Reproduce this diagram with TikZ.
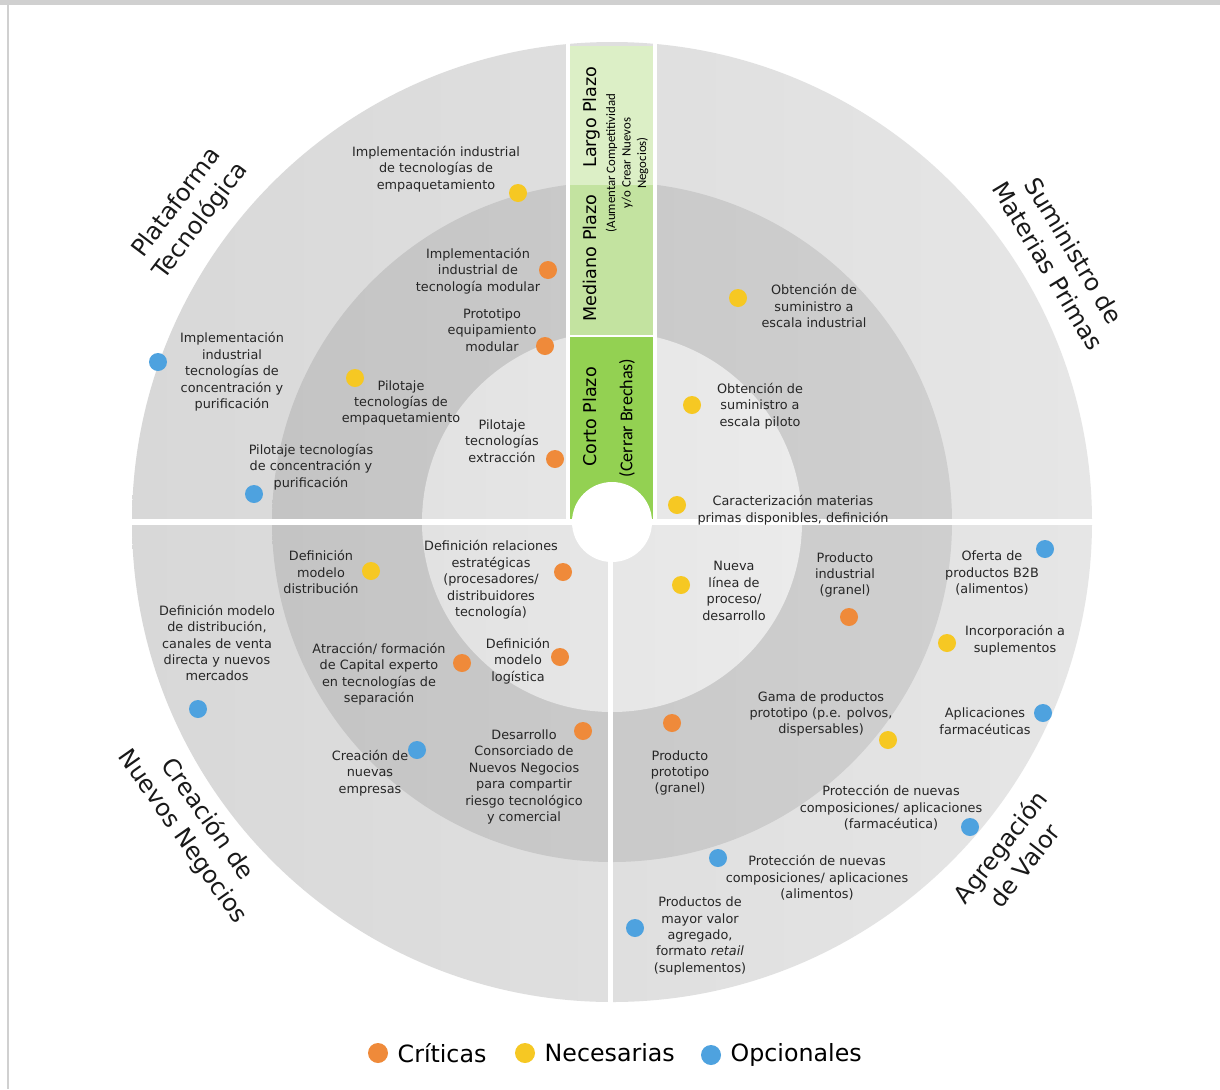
\documentclass[tikz,border=0pt]{standalone}
\usepackage{fontspec}
\setmainfont{DejaVu Sans}
\newfontfamily\calib{Carlito}
\usetikzlibrary{positioning}

\definecolor{critica}{HTML}{EF8A3A}
\definecolor{necesaria}{HTML}{F6C823}
\definecolor{opcional}{HTML}{4EA2DF}
\definecolor{outL}{HTML}{D8D8D8}
\definecolor{outR}{HTML}{E6E6E6}
\definecolor{midL}{HTML}{C4C4C4}
\definecolor{midR}{HTML}{CFCFCF}
\definecolor{inL}{HTML}{E2E2E2}
\definecolor{inR}{HTML}{EBEBEB}
\definecolor{largo}{HTML}{DCEFC6}
\definecolor{mediano}{HTML}{C3E3A0}
\definecolor{corto}{HTML}{93D152}
\definecolor{marco}{HTML}{D0D0D0}

\begin{document}
\begin{tikzpicture}[
        x=0.02cm, y=-0.02cm,
        txt/.style={align=center, inner sep=0pt, text=black!85, font=\fontsize{7.3}{9.35}\selectfont},
        dot/.style={circle, inner sep=0pt, minimum size=0.36cm},
        crit/.style={dot, fill=critica},
        nec/.style={dot, fill=necesaria},
        opc/.style={dot, fill=opcional},
        eje/.style={align=center, inner sep=0pt, text=black!90, font=\fontsize{13.6}{17.2}\selectfont},
        plazo/.style={rotate=90, align=center, inner sep=0pt, font=\fontsize{10}{12}\selectfont},
        plazosub/.style={rotate=90, align=center, inner sep=0pt},
        leyenda/.style={inner sep=0pt, anchor=west, font=\fontsize{13.5}{15}\selectfont}
    ]

    \useasboundingbox (0,0) rectangle (1220,1089);
    \fill[white] (0,0) rectangle (1220,1089);
    \fill[marco] (0,0) rectangle (1220,5);
    \draw[marco, line width=1.2pt] (8,5) -- (8,1089);

    % anillos
    \coordinate (centro) at (612,522);
    \shade[left color=outL, right color=outR] (centro) circle (480);
    \shade[left color=midL, right color=midR] (centro) circle (340);
    \shade[left color=inL, right color=inR] (centro) circle (190);

    % franja de plazos
    \fill[largo] (570,46) rectangle (653,185);
    \fill[mediano] (570,185) rectangle (653,336);
    \fill[corto] (570,336) rectangle (653,524);
    \draw[white, line width=1pt] (570,336) -- (653,336);

    % separaciones
    \fill[white] (566,30) rectangle (570,524);
    \fill[white] (653,30) rectangle (657,524);
    \fill[white] (120,519) rectangle (1100,525);
    \fill[white] (608,522) rectangle (613,1010);
    \fill[white] (centro) circle (40);

    \node[plazo] (largo) at (592,117) {Largo Plazo};
    \node[plazosub, font=\calib\fontsize{7.3}{8.8}\selectfont] (largoSub) at (627,163) {(Aumentar Competitividad\\y/o Crear Nuevos\\Negocios)};
    \node[plazo] (mediano) at (590,258) {Mediano Plazo};
    \node[plazo] (corto) at (590,417) {Corto Plazo};
    \node[plazosub, font=\calib\fontsize{10.3}{12}\selectfont] (cortoSub) at (627,418) {(Cerrar Brechas)};

    % ejes
    \node[eje, rotate=53] (plataforma) at (189,212) {Plataforma\\Tecnológica};
    \node[eje, rotate=-59] (suministro) at (1061,258) {Suministro de\\Materias Primas};
    \node[eje, rotate=-55] (creacion) at (195,828) {Creación de\\Nuevos Negocios};
    \node[eje, rotate=52] (agregacion) at (1012,856) {Agregación\\de Valor};

    % Plataforma Tecnologica
    \node[txt] (empaqInd) at (436,169) {Implementación industrial\\de tecnologías de\\empaquetamiento};
    \node[nec] (dEmpaqInd) at (518,193) {};
    \node[txt] (modInd) at (478,271) {Implementación\\industrial de\\tecnología modular};
    \node[crit] (dModInd) at (548,270) {};
    \node[txt] (protoMod) at (492,330) {Prototipo\\equipamiento\\modular};
    \node[crit] (dProtoMod) at (545,346) {};
    \node[txt] (concInd) at (232,372) {Implementación\\industrial\\tecnologías de\\concentración y\\purificación};
    \node[opc] (dConcInd) at (158,362) {};
    \node[txt] (empaqPil) at (401,403) {Pilotaje\\tecnologías de\\empaquetamiento};
    \node[nec] (dEmpaqPil) at (355,378) {};
    \node[txt] (extrPil) at (502,441) {Pilotaje\\tecnologías\\extracción};
    \node[crit] (dExtrPil) at (555,459) {};
    \node[txt] (concPil) at (311,467) {Pilotaje tecnologías\\de concentración y\\purificación};
    \node[opc] (dConcPil) at (254,494) {};

    % Suministro de Materias Primas
    \node[txt] (sumInd) at (814,306) {Obtención de\\suministro a\\escala industrial};
    \node[nec] (dSumInd) at (738,298) {};
    \node[txt] (sumPil) at (760,406) {Obtención de\\suministro a\\escala piloto};
    \node[nec] (dSumPil) at (692,405) {};
    \node[txt] (caract) at (793,510) {Caracterización materias\\primas disponibles, definición};
    \node[nec] (dCaract) at (677,505) {};

    % Creacion de Nuevos Negocios
    \node[txt] (modDist) at (321,572) {Definición\\modelo\\distribución};
    \node[nec] (dModDist) at (371,571) {};
    \node[txt] (relEstr) at (491,580) {Definición relaciones\\estratégicas\\(procesadores/\\distribuidores\\tecnología)};
    \node[crit] (dRelEstr) at (563,572) {};
    \node[txt] (canales) at (217,643) {Definición modelo\\de distribución,\\canales de venta\\directa y nuevos\\mercados};
    \node[opc] (dCanales) at (198,709) {};
    \node[txt] (capital) at (379,674) {Atracción/ formación\\de Capital experto\\en tecnologías de\\separación};
    \node[crit] (dCapital) at (462,663) {};
    \node[txt] (logist) at (518,661) {Definición\\modelo\\logística};
    \node[crit] (dLogist) at (560,657) {};
    \node[txt] (empresas) at (370,773) {Creación de\\nuevas\\empresas};
    \node[opc] (dEmpresas) at (417,750) {};
    \node[txt] (consorcio) at (524,777) {Desarrollo\\Consorciado de\\Nuevos Negocios\\para compartir\\riesgo tecnológico\\y comercial};
    \node[crit] (dConsorcio) at (583,731) {};

    % Agregacion de Valor
    \node[txt] (linea) at (734,591) {Nueva\\línea de\\proceso/\\desarrollo};
    \node[nec] (dLinea) at (681,585) {};
    \node[txt] (prodInd) at (845,575) {Producto\\industrial\\(granel)};
    \node[crit] (dProdInd) at (849,617) {};
    \node[txt] (ofertaB2B) at (992,573) {Oferta de\\productos B2B\\(alimentos)};
    \node[opc] (dOfertaB2B) at (1045,549) {};
    \node[txt] (suplem) at (1015,640) {Incorporación a\\suplementos};
    \node[nec] (dSuplem) at (947,643) {};
    \node[txt] (gama) at (821,714) {Gama de productos\\prototipo (p.e. polvos,\\dispersables)};
    \node[nec] (dGama) at (888,740) {};
    \node[txt] (farma) at (985,721) {Aplicaciones\\farmacéuticas};
    \node[opc] (dFarma) at (1043,713) {};
    \node[txt] (prodProto) at (680,773) {Producto\\prototipo\\(granel)};
    \node[crit] (dProdProto) at (672,723) {};
    \node[txt] (protFarma) at (891,808) {Protección de nuevas\\composiciones/ aplicaciones\\(farmacéutica)};
    \node[opc] (dProtFarma) at (970,827) {};
    \node[txt] (protAlim) at (817,878) {Protección de nuevas\\composiciones/ aplicaciones\\(alimentos)};
    \node[opc] (dProtAlim) at (718,858) {};
    \node[txt] (retail) at (700,936) {Productos de\\mayor valor\\agregado,\\formato \textit{retail}\\(suplementos)};
    \node[opc] (dRetail) at (635,928) {};

    % leyenda
    \node[crit, minimum size=0.4cm] (legCrit) at (378,1053) {};
    \node[leyenda, right=0.18cm of legCrit] (txtCrit) {Críticas};
    \node[nec, minimum size=0.4cm] (legNec) at (525,1053) {};
    \node[leyenda, right=0.18cm of legNec] (txtNec) {Necesarias};
    \node[opc, minimum size=0.4cm] (legOpc) at (711,1055) {};
    \node[leyenda, right=0.18cm of legOpc] (txtOpc) {Opcionales};

\end{tikzpicture}
\end{document}
